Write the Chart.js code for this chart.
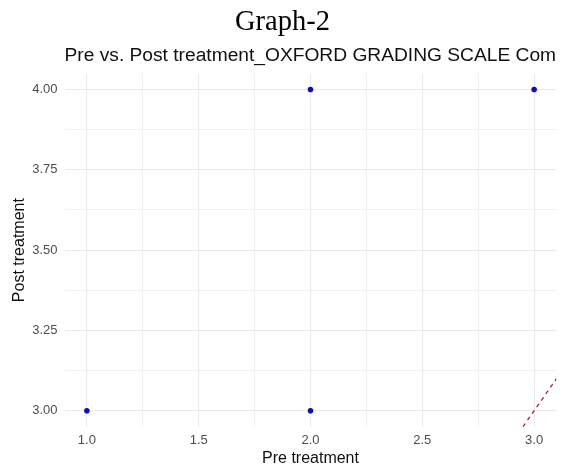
<!DOCTYPE html>
<html>
<head>
<meta charset="utf-8">
<script src="https://cdn.jsdelivr.net/npm/chart.js@4.4.1/dist/chart.umd.min.js"></script>
<style>
  html, body { margin: 0; padding: 0; background: #ffffff; }
  canvas { display: block; }
</style>
</head>
<body>
<canvas id="c" width="565" height="466"></canvas>
<script>
// ---- data ----
const preTreatment  = [1, 2, 2, 3];
const postTreatment = [3, 3, 4, 4];

const xGridValues = [1.0, 1.25, 1.5, 1.75, 2.0, 2.25, 2.5, 2.75, 3.0];
const xTickLabels = [1.0, 1.5, 2.0, 2.5, 3.0];
const yGridValues = [3.0, 3.125, 3.25, 3.375, 3.5, 3.625, 3.75, 3.875, 4.0];
const yTickLabels = [3.0, 3.25, 3.5, 3.75, 4.0];

const refLineX = [2.95, 3.1];
const refLineY = [2.95, 3.1];

const chartTitle = 'Graph-2';
const chartSubtitle = 'Pre vs. Post treatment_OXFORD GRADING SCALE Com';
const xTitle = 'Pre treatment';
const yTitle = 'Post treatment';

// ---- build ----
const scatterPoints = preTreatment.map((x, i) => ({ x: x, y: postTreatment[i] }));
const refPoints = refLineX.map((x, i) => ({ x: x, y: refLineY[i] }));

const isMajor = (list, v) => list.some(t => Math.abs(t - v) < 1e-9);
const SANS = "'Liberation Sans', Arial, sans-serif";

new Chart(document.getElementById('c'), {
  type: 'scatter',
  data: {
    datasets: [
      {
        type: 'line',
        data: refPoints,
        borderColor: '#8e2a3a',
        borderWidth: 1.3,
        borderDash: [4, 4],
        pointRadius: 0,
        fill: false,
        showLine: true
      },
      {
        data: scatterPoints,
        backgroundColor: '#1010b0',
        borderWidth: 0,
        pointRadius: 2.8
      }
    ]
  },
  options: {
    responsive: false,
    animation: false,
    devicePixelRatio: 1,
    layout: { padding: 0 },
    plugins: {
      legend: { display: false },
      tooltip: { enabled: false },
      title: {
        display: true,
        text: chartTitle,
        color: '#000000',
        font: { family: "'Liberation Serif', 'Times New Roman', serif", size: 28.5, weight: 'normal', lineHeight: 1.2 },
        padding: { top: 5.2, bottom: 0 }
      },
      subtitle: {
        display: true,
        text: chartSubtitle,
        align: 'start',
        fullSize: false,
        color: '#111111',
        font: { family: SANS, size: 19.2, weight: 'normal', lineHeight: 1.2 },
        padding: { top: 5.1, bottom: 5.9 }
      }
    },
    scales: {
      x: {
        type: 'linear',
        min: 0.9,
        max: 3.1,
        afterBuildTicks: (s) => { s.ticks = xGridValues.map(v => ({ value: v })); },
        afterFit: (s) => { s.height = 39.2; },
        border: { display: false },
        grid: {
          drawTicks: false,
          color: (ctx) => (ctx.tick && isMajor(xTickLabels, ctx.tick.value)) ? '#e9e9e9' : '#f1f1f1',
          lineWidth: 1
        },
        ticks: {
          autoSkip: false,
          maxRotation: 0,
          padding: 6,
          color: '#4d4d4d',
          font: { family: SANS, size: 13 },
          callback: (v) => isMajor(xTickLabels, v) ? Number(v).toFixed(1) : ''
        },
        title: {
          display: true,
          text: xTitle,
          color: '#111111',
          font: { family: SANS, size: 16, lineHeight: 0.92 },
          padding: { top: 0, bottom: 0 }
        }
      },
      y: {
        type: 'linear',
        min: 2.95,
        max: 4.05,
        afterBuildTicks: (s) => { s.ticks = yGridValues.map(v => ({ value: v })); },
        afterFit: (s) => { s.width = 64.5; },
        border: { display: false },
        grid: {
          drawTicks: false,
          color: (ctx) => (ctx.tick && isMajor(yTickLabels, ctx.tick.value)) ? '#e9e9e9' : '#f1f1f1',
          lineWidth: 1
        },
        ticks: {
          autoSkip: false,
          padding: 7,
          color: '#4d4d4d',
          font: { family: SANS, size: 13 },
          callback: (v) => isMajor(yTickLabels, v) ? Number(v).toFixed(2) : ''
        },
        title: {
          display: true,
          text: yTitle,
          color: '#111111',
          font: { family: SANS, size: 16, lineHeight: 1.2 },
          padding: { top: 9.7, bottom: 0 }
        }
      },
      yRight: {
        type: 'linear',
        position: 'right',
        display: true,
        afterFit: (s) => { s.width = 8.5; },
        border: { display: false },
        grid: { display: false, drawTicks: false },
        ticks: { display: false }
      }
    }
  }
});
</script>
</body>
</html>
